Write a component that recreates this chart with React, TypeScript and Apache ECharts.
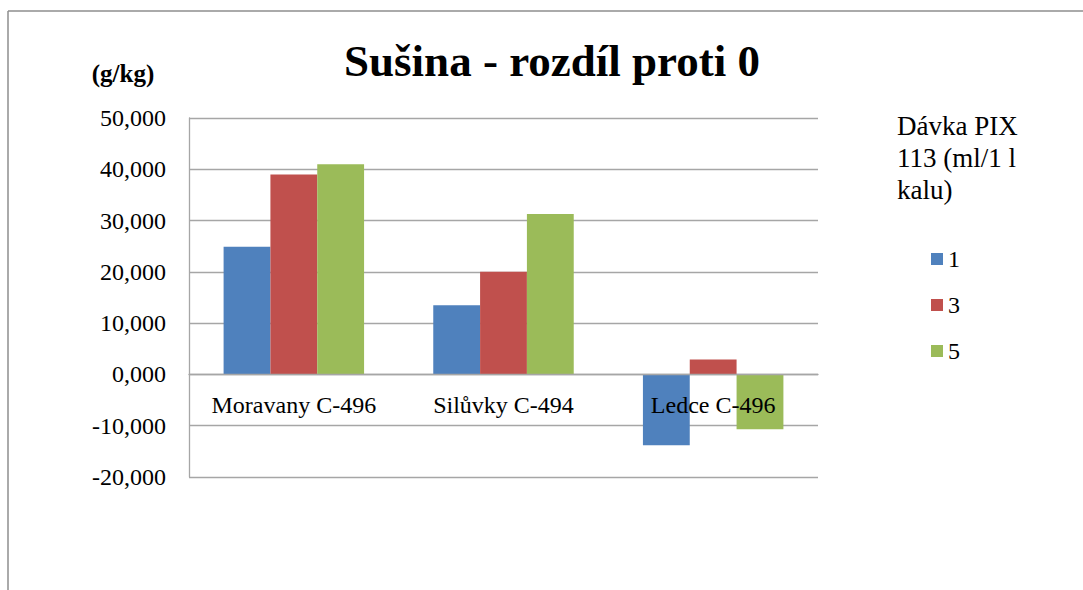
import React, { useEffect, useRef } from "react";
import * as echarts from "echarts";

const categories = ["Moravany C-496", "Silůvky C-494", "Ledce C-496"];
const seriesNames = ["1", "3", "5"];
const dose1 = [24.9, 13.5, -13.8];
const dose3 = [39.0, 20.0, 2.9];
const dose5 = [41.0, 31.3, -10.7];
const colors = ["#4F81BD", "#C0504D", "#9BBB59"];
const titleText = "Sušina - rozdíl proti 0";
const unitText = "(g/kg)";
const legendTitle = "Dávka PIX\n113 (ml/1 l\nkalu)";

const FONT = "Liberation Serif";

export default function App() {
  const ref = useRef<HTMLDivElement>(null);
  useEffect(() => {
    if (!ref.current) return;
    const chart = echarts.init(ref.current, undefined, { renderer: "svg" });
    const values = [dose1, dose3, dose5];
    chart.setOption({
      animation: false,
      grid: { left: 189, right: 265, top: 118, height: 359, containLabel: false },
      xAxis: {
        type: "category",
        data: categories,
        z: 10,
        offset: -102.6,
        axisLine: { show: true, onZero: false, lineStyle: { color: "#A6A6A6", width: 1.3 } },
        axisTick: { show: false },
        axisLabel: { interval: 0, hideOverlap: false, margin: 19, fontSize: 24, fontFamily: FONT, color: "#000" },
        splitLine: { show: false },
      },
      yAxis: {
        type: "value",
        min: -20,
        max: 50,
        interval: 10,
        axisLine: { show: true, lineStyle: { color: "#A6A6A6", width: 1.3 } },
        axisTick: { show: false },
        axisLabel: {
          margin: 23,
          fontSize: 24,
          fontFamily: FONT,
          color: "#000",
          formatter: (v: number) => v.toFixed(3).replace(".", ","),
        },
        splitLine: { show: true, lineStyle: { color: "#A6A6A6", width: 1.3 } },
      },
      legend: {
        orient: "vertical",
        left: 926,
        top: 242,
        itemWidth: 12,
        itemHeight: 12,
        itemGap: 22,
        icon: "rect",
        data: seriesNames,
        textStyle: { fontSize: 24, fontFamily: FONT, color: "#000" },
      },
      series: seriesNames.map((name, i) => ({
        name,
        type: "bar",
        data: values[i],
        barGap: "0%",
        barCategoryGap: "33%",
        itemStyle: { color: colors[i] },
      })),
      graphic: [
        { type: "line", shape: { x1: 8, y1: 11, x2: 1083, y2: 11 }, style: { stroke: "#8E8E8E", lineWidth: 1.5 } },
        { type: "line", shape: { x1: 8, y1: 11, x2: 8, y2: 590 }, style: { stroke: "#8E8E8E", lineWidth: 1.5 } },
        {
          type: "text",
          x: 552,
          y: 38,
          style: {
            text: titleText,
            fontSize: 45,
            fontWeight: "bold",
            fontFamily: FONT,
            fill: "#000",
            align: "center",
          },
        },
        {
          type: "text",
          x: 123,
          y: 61,
          style: {
            text: unitText,
            fontSize: 25,
            fontWeight: "bold",
            fontFamily: FONT,
            fill: "#000",
            align: "center",
          },
        },
        {
          type: "text",
          x: 897,
          y: 110,
          style: {
            text: legendTitle,
            fontSize: 27,
            lineHeight: 32,
            fontFamily: FONT,
            fill: "#000",
          },
        },
      ],
    });
    return () => chart.dispose();
  }, []);
  return (
    <div
      ref={ref}
      style={{ position: "absolute", left: 0, top: 0, width: 1083, height: 590, background: "#fff" }}
    />
  );
}
